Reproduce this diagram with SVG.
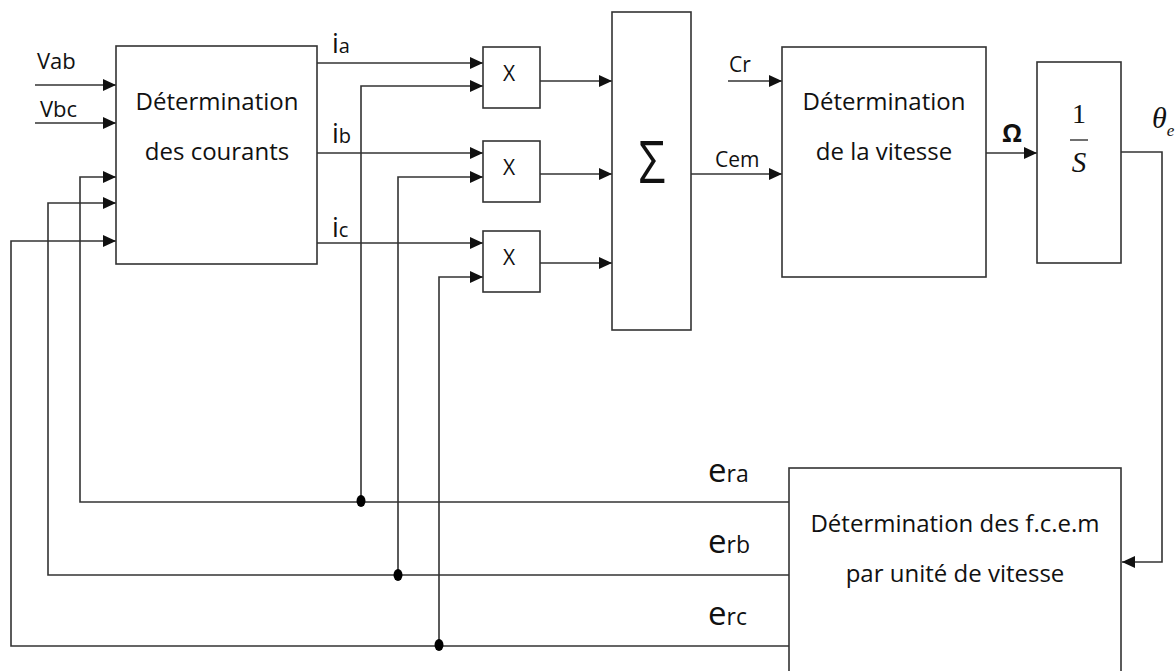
<svg xmlns="http://www.w3.org/2000/svg" width="1176" height="671" viewBox="0 0 1176 671">
<defs>
<marker id="arr" markerUnits="userSpaceOnUse" markerWidth="14" markerHeight="12" refX="13" refY="6" orient="auto">
<path d="M0,0 L13,6 L0,12 z" fill="#111"/>
</marker>
<style>
.box{fill:#fff;stroke:#333;stroke-width:1.6}
.w{fill:none;stroke:#333;stroke-width:1.6}
.a{marker-end:url(#arr)}
.t{font-family:"Open Sans","Liberation Sans",sans-serif;fill:#111}
.c{text-anchor:middle}
.m{font-family:"Liberation Serif",serif;fill:#111}
</style>
</defs>
<rect width="1176" height="671" fill="#fff"/>

<g id="connectors">
<path class="w a" d="M35,85 H116"/>
<path class="w a" d="M35,123 H116"/>
<path class="w a" d="M317,63 H483"/>
<path class="w a" d="M317,153 H483"/>
<path class="w a" d="M317,243 H483"/>
<path class="w a" d="M540,81 H612"/>
<path class="w a" d="M540,174 H612"/>
<path class="w a" d="M540,263 H612"/>
<path class="w a" d="M728,81 H782"/>
<path class="w a" d="M691,174 H782"/>
<path class="w a" d="M986,153 H1037"/>
<path class="w a" d="M1121,152 H1162 V562 H1122"/>
<path class="w a" d="M789,502 H80 V177 H116"/>
<path class="w a" d="M789,575 H48 V203 H116"/>
<path class="w a" d="M789,646 H11 V241 H116"/>
<path class="w a" d="M361,502 V86 H483"/>
<path class="w a" d="M398,575 V177 H483"/>
<path class="w a" d="M439,646 V277 H483"/>
<ellipse cx="361" cy="501" rx="4.5" ry="6" fill="#000"/>
<ellipse cx="398" cy="575" rx="4.5" ry="6" fill="#000"/>
<ellipse cx="439" cy="645" rx="4.5" ry="6" fill="#000"/>
</g>

<g id="labels">
<text class="t" x="37" y="69" font-size="22">Vab</text>
<text class="t" x="40" y="117" font-size="22">Vbc</text>
<text class="t" x="332" y="53" font-size="27">i<tspan font-size="20">a</tspan></text>
<text class="t" x="332" y="143" font-size="27">i<tspan font-size="20">b</tspan></text>
<text class="t" x="332" y="237" font-size="27">i<tspan font-size="20">c</tspan></text>
<text class="t" x="729" y="72" font-size="21">Cr</text>
<text class="t" x="715" y="167" font-size="21">Cem</text>
<text class="t" x="1012" y="142" font-size="25" font-weight="bold" text-anchor="middle">Ω</text>
<text class="m" x="1152" y="128" font-size="30" font-style="italic">θ<tspan font-size="17" dy="8">e</tspan></text>
<text class="t" x="708" y="482" font-size="33">e<tspan font-size="23">ra</tspan></text>
<text class="t" x="708" y="553" font-size="33">e<tspan font-size="23">rb</tspan></text>
<text class="t" x="708" y="625" font-size="33">e<tspan font-size="23">rc</tspan></text>
</g>

<g id="courants">
<rect class="box" x="116" y="46" width="201" height="218"/>
<text class="t c" x="217" y="110" font-size="24">Détermination</text>
<text class="t c" x="217" y="160" font-size="24">des courants</text>
</g>

<g id="mult1">
<rect class="box" x="483" y="47" width="57" height="61"/>
<text class="t c" x="509" y="81" font-size="21">X</text>
</g>
<g id="mult2">
<rect class="box" x="483" y="141" width="57" height="61"/>
<text class="t c" x="509" y="175" font-size="21">X</text>
</g>
<g id="mult3">
<rect class="box" x="483" y="231" width="57" height="61"/>
<text class="t c" x="509" y="265" font-size="21">X</text>
</g>

<g id="sum">
<rect class="box" x="612" y="12" width="79" height="318"/>
<text class="t c" x="652" y="183" font-size="58" transform="translate(652,0) scale(0.82,1) translate(-652,0)">Σ</text>
</g>

<g id="vitesse">
<rect class="box" x="782" y="47" width="204" height="230"/>
<text class="t c" x="884" y="110" font-size="24">Détermination</text>
<text class="t c" x="884" y="160" font-size="24">de la vitesse</text>
</g>

<g id="integrator">
<rect class="box" x="1037" y="62" width="84" height="201"/>
<text class="m c" x="1079" y="123" font-size="28">1</text>
<line x1="1070" y1="140" x2="1088" y2="140" stroke="#333" stroke-width="1.4"/>
<text class="m c" x="1079" y="172" font-size="29" font-style="italic">S</text>
</g>

<g id="fcem">
<rect class="box" x="789" y="468" width="332" height="215"/>
<text class="t c" x="955" y="532" font-size="24">Détermination des f.c.e.m</text>
<text class="t c" x="955" y="582" font-size="24">par unité de vitesse</text>
</g>
</svg>
